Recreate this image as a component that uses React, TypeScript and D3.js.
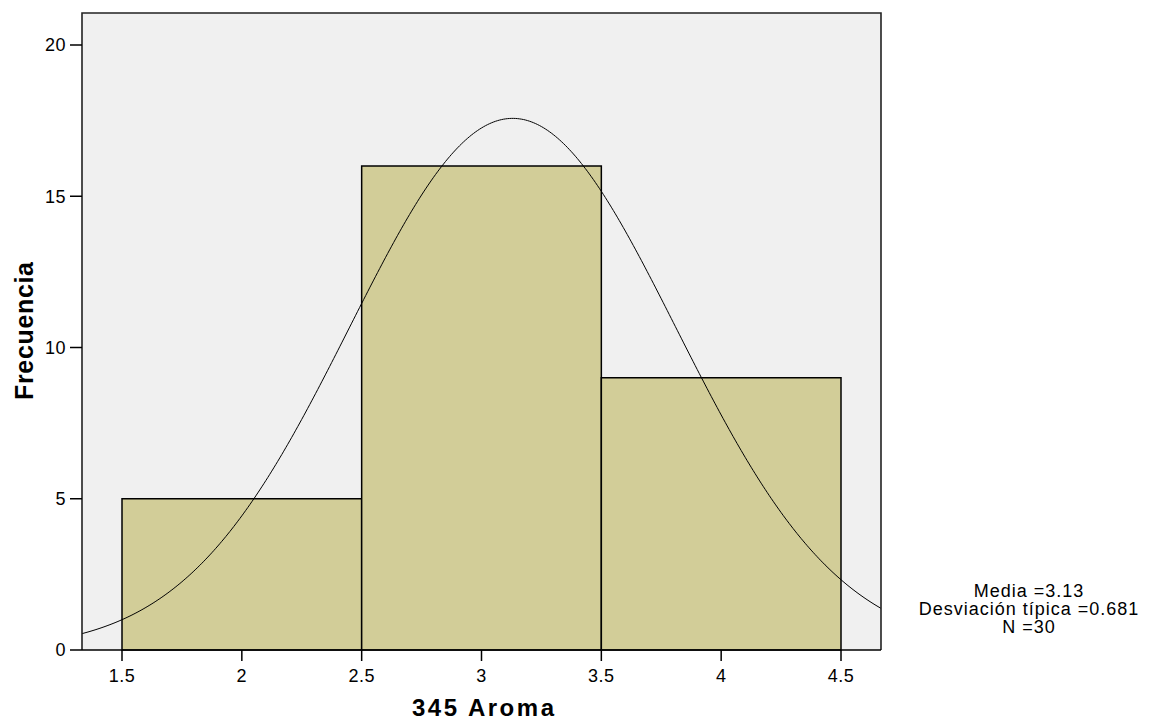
import React from "react";
import * as d3 from "d3";

const binStarts = [1.5, 2.5, 3.5];
const binEnds = [2.5, 3.5, 4.5];
const counts = [5, 16, 9];
const xTicks = [1.5, 2, 2.5, 3, 3.5, 4, 4.5];
const yTicks = [0, 5, 10, 15, 20];
const mean = 3.13;
const sd = 0.681;
const n = 30;
const binWidth = 1;
const statLines = ["Media =3.13", "Desviación típica =0.681", "N =30"];

export default function App() {
  const W = 1151, H = 722;
  const left = 82, right = 881, top = 13, bottom = 650;
  const x = d3.scaleLinear().domain([1.5, 4.5]).range([122, 841]);
  const y = d3.scaleLinear().domain([0, 20]).range([650, 45]);
  const x0 = x.invert(left), x1 = x.invert(right);
  const pts = d3.range(0, 401).map((i) => {
    const v = x0 + ((x1 - x0) * i) / 400;
    const d = (n * binWidth) / (sd * Math.sqrt(2 * Math.PI)) * Math.exp(-0.5 * ((v - mean) / sd) ** 2);
    return [x(v), y(d)] as [number, number];
  });
  const line = d3.line()(pts) || "";
  const font = "'Liberation Sans', Arial, sans-serif";
  return (
    <svg width={W} height={H} style={{ position: "absolute", left: 0, top: 0, background: "#fff" }} fontFamily={font}>
      <rect x={left} y={top} width={right - left} height={bottom - top} fill="#f0f0f0" />
      {counts.map((c, i) => (
        <rect key={i} x={x(binStarts[i])} y={y(c)} width={x(binEnds[i]) - x(binStarts[i])} height={y(0) - y(c)}
          fill="#d2cd98" stroke="#000" strokeWidth={1.5} />
      ))}
      <path d={line} fill="none" stroke="#000" strokeWidth={1} />
      <path d={`M${left},${bottom}V${top}H${right}V${bottom}`} fill="none" stroke="#222" strokeWidth={1.6} />
      <line x1={left} x2={right} y1={bottom} y2={bottom} stroke="#000" strokeWidth={1.5} />
      {yTicks.map((t) => (
        <g key={t}>
          <line x1={left - 12} x2={left} y1={y(t)} y2={y(t)} stroke="#000" strokeWidth={1.5} />
          <text x={left - 16} y={y(t)} dy="0.36em" textAnchor="end" fontSize={18} letterSpacing={0.5} fill="#000">{t}</text>
        </g>
      ))}
      {xTicks.map((t) => (
        <g key={t}>
          <line x1={x(t)} x2={x(t)} y1={bottom} y2={bottom + 11} stroke="#000" strokeWidth={1.5} />
          <text x={x(t)} y={bottom + 32} textAnchor="middle" fontSize={18} letterSpacing={0.5} fill="#000">{t}</text>
        </g>
      ))}
      <text x={412} y={716} fontSize={24} fontWeight="bold" textLength={142} lengthAdjust="spacing">345 Aroma</text>
      <text transform="translate(33,400) rotate(-90)" fontSize={25} fontWeight="bold" textLength={138} lengthAdjust="spacing">Frecuencia</text>
      {statLines.map((s, i) => (
        <text key={i} x={1029} y={597 + i * 18} textAnchor="middle" fontSize={18} letterSpacing={1}>{s}</text>
      ))}
    </svg>
  );
}
